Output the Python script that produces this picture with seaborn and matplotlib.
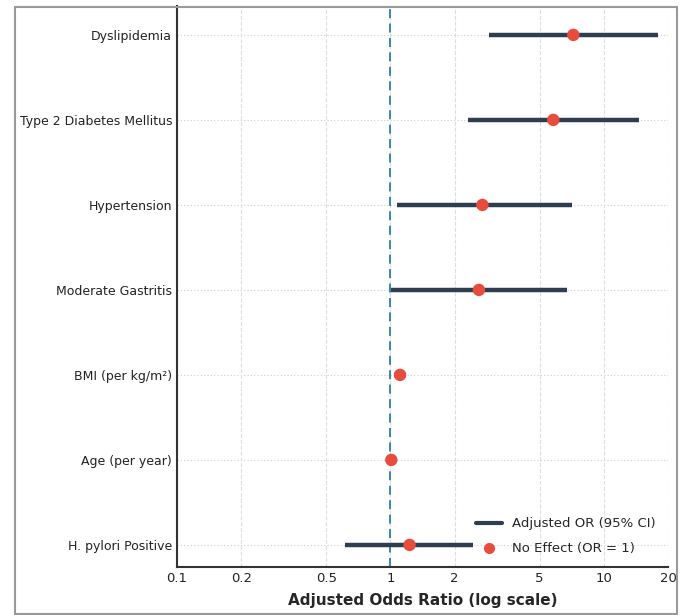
import matplotlib
matplotlib.use("Agg")
import matplotlib.pyplot as plt
import seaborn as sns
import pandas as pd
from matplotlib.patches import Rectangle
from matplotlib.lines import Line2D
from matplotlib.ticker import FixedLocator, FixedFormatter, LogLocator, NullFormatter

variables = ["Dyslipidemia", "Type 2 Diabetes Mellitus", "Hypertension",
             "Moderate Gastritis", "BMI (per kg/m²)", "Age (per year)", "H. pylori Positive"]
odds_ratio = [7.2, 5.8, 2.7, 2.6, 1.11, 1.01, 1.23]
ci_low = [2.9, 2.3, 1.07, 1.01, 1.04, 1.00, 0.61]
ci_high = [17.9, 14.6, 7.1, 6.7, 1.18, 1.03, 2.45]
xticks = [0.1, 0.2, 0.5, 1, 2, 5, 10, 20]
xtick_labels = ["0.1", "0.2", "0.5", "1", "2", "5", "10", "20"]

df = pd.DataFrame({"var": variables, "or": odds_ratio, "lo": ci_low, "hi": ci_high})
df["pos"] = range(len(df))

sns.set_style("white")
plt.rcParams['font.family'] = ['DejaVu Sans']

fig = plt.figure(figsize=(6.92, 6.15), dpi=100)
ax = fig.add_axes([177/692, 1-567/615, (668-177)/692, (567-6)/615])

# horizontal dotted grid at categories
for p in df["pos"]:
    ax.axhline(p, color="#cccccc", lw=0.8, ls=(0, (1, 2)), zorder=0)
ax.set_xscale("log")
ax.set_xlim(0.1, 20)
ax.xaxis.set_major_locator(FixedLocator(xticks))
ax.xaxis.set_major_formatter(FixedFormatter(xtick_labels))
ax.xaxis.set_minor_locator(LogLocator(base=10, subs=range(2, 10)))
ax.xaxis.set_minor_formatter(NullFormatter())
ax.grid(axis="x", which="major", color="#dddddd", ls="--", lw=0.8)
ax.set_axisbelow(True)

ax.hlines(df["pos"], df["lo"], df["hi"], color="#2c3e50", lw=3.2, zorder=2)
sns.scatterplot(data=df, x="or", y="pos", ax=ax, color="#e74c3c", s=80,
                edgecolor="none", zorder=3, legend=False)
ax.axvline(1, color="#2a80a0", ls=(0, (5, 3)), lw=1.3, zorder=1)

ax.set_ylim(6.26, -0.34)
ax.set_yticks(df["pos"])
ax.set_yticklabels(variables, fontsize=9, color="#222222")
ax.tick_params(axis="x", labelsize=9.5, labelcolor="#222222")
ax.tick_params(axis="both", which="major", direction="in", length=4, width=1, color="#333333")
ax.tick_params(axis="x", which="minor", direction="in", length=2.5, width=0.8, color="#333333")
ax.set_ylabel("")
ax.set_xlabel("Adjusted Odds Ratio (log scale)", fontsize=11, fontweight="bold", labelpad=6)
for s in ["top", "right"]:
    ax.spines[s].set_visible(False)
for s in ["left", "bottom"]:
    ax.spines[s].set_color("#333333")
    ax.spines[s].set_linewidth(1.5)

handles = [Line2D([0], [0], color="#2c3e50", lw=3),
           Line2D([0], [0], marker="o", color="none", markerfacecolor="#e74c3c",
                  markeredgecolor="none", markersize=8)]
ax.legend(handles, ["Adjusted OR (95% CI)", "No Effect (OR = 1)"], loc="lower right",
          frameon=False, fontsize=9.5, labelspacing=0.9, bbox_to_anchor=(1.0, 0.0))

fig.patches.append(Rectangle((15/692, 1-614/615), (677-15)/692, (614-7)/615,
                             transform=fig.transFigure, fill=False,
                             edgecolor="#999999", lw=1.5))

fig.savefig("out.png", dpi=100)
